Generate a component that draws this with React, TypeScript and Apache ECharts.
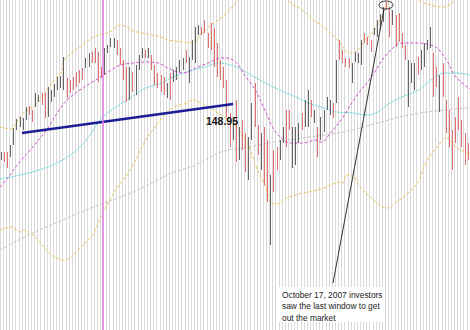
import React, { useEffect, useRef } from "react";
import * as echarts from "echarts";

// Daily bars (price units)
const highs = [
  146.40,146.40,146.40,146.75,147.60,148.05,148.15,148.10,148.65,148.70,
  148.50,149.35,149.25,149.35,149.35,149.65,149.50,149.80,150.15,150.20,
  151.15,150.10,150.00,150.15,150.40,150.50,150.60,151.10,151.35,151.40,
  151.60,151.40,150.65,151.60,151.75,152.10,152.10,152.00,151.60,151.00,
  150.65,150.65,150.40,150.75,151.25,151.60,151.50,151.60,151.25,150.75,
  150.35,150.25,150.15,149.85,150.35,150.50,150.65,151.00,151.10,151.50,
  151.15,152.00,152.65,152.75,152.65,153.00,152.35,152.85,152.60,151.85,
  151.00,150.65,150.00,148.35,148.00,149.00,147.65,148.00,147.35,147.15,
  148.85,149.85,147.75,147.35,147.65,147.00,145.25,146.50,146.65,147.00,
  147.65,148.50,148.50,147.65,147.65,147.85,148.35,149.00,149.50,149.00,
  148.50,147.65,148.15,148.50,149.15,149.00,148.85,151.00,152.00,151.50,
  151.10,151.10,150.85,151.40,151.35,152.00,152.35,152.15,152.00,152.60,
  153.00,153.30,153.65,153.90,153.65,153.50,153.25,153.35,152.35,151.75,
  151.00,150.85,150.85,151.15,151.50,151.85,152.00,152.65,151.35,150.65,
  150.25,150.85,149.00,148.50,147.50,148.15,149.15,148.00,147.35,146.85,
];
const lows = [
  146.00,145.90,145.60,146.15,146.75,147.50,147.65,147.50,148.00,148.25,
  147.90,148.65,148.90,148.75,148.10,148.15,148.90,149.15,149.50,149.60,
  149.50,149.10,149.35,149.50,149.65,149.85,150.00,150.60,150.65,150.85,
  150.85,149.90,150.10,150.25,151.35,151.65,151.60,151.25,150.75,150.00,
  148.90,149.00,149.40,149.25,150.50,151.10,151.10,151.10,150.50,149.75,
  149.60,149.40,149.25,149.10,149.00,149.90,150.00,150.40,150.50,150.85,
  149.85,151.00,150.85,152.25,152.25,152.35,151.60,151.50,150.65,150.15,
  150.00,149.60,148.15,146.65,147.00,145.90,146.00,146.50,145.40,145.00,
  147.00,147.65,146.25,145.50,144.75,143.90,141.75,144.40,145.50,146.00,
  146.85,146.65,147.50,145.60,145.75,146.85,147.50,147.65,147.65,148.15,
  147.85,146.15,147.00,147.40,148.50,148.25,148.10,148.85,151.00,150.85,
  150.65,150.60,149.85,150.90,150.85,150.75,151.85,151.75,151.40,152.25,
  152.15,152.50,152.90,153.50,152.15,152.75,151.65,151.90,151.60,151.00,
  148.65,149.85,149.50,150.25,150.50,150.65,151.50,151.60,149.15,149.65,
  148.40,149.15,147.35,146.65,145.50,146.85,147.50,146.65,145.75,146.00,
];
// U = up day (dark bar), D = down day (red bar)
const directions = [
  "UDDUUUUUUD", "DUUDDUUUUU", "UDDDDDDUUD", "DDDUUUUDDD", "DUDUUUDUDD",
  "DDDUDUUUUD", "UUUUDDDDDD", "DDDDUDUDDU", "UDDUDDUDDU", "UDDUUUDUUD",
  "UDUUUUDUDD", "DDUUUUDDDU", "UUUDDUDDDD", "UUUDUUUUDD", "UDDDDDDDDD",
].join("").split("");

// Indicator curves: [bar index, price]
const upperBand = [
  [-0.5,147.65],[3,147.55],[5,147.95],[7,148.35],[10,148.65],[13,149.15],[16,149.85],[19,150.4],
  [20,151.0],[25,151.65],[30,152.2],[34,152.35],[38,152.75],[40,152.65],[42,152.45],[45,152.35],
  [48,152.25],[51,152.15],[53,152.0],[58,151.9],[60,151.85],[62,151.95],[63,152.15],[66,152.65],
  [70,153.1],[75,153.9],[79,154.75],[84,155.25],[89,154.6],[92,153.9],[96,153.5],[100,152.95],
  [102,152.75],[105,152.35],[108,151.85],[111,151.35],[113,151.4],[116,152.0],[119,152.5],
  [121,153.1],[123,153.75],[126,154.4],[129,154.4],[132,154.1],[134,153.9],[138,153.7],
  [141,153.65],[144,153.9],[147,154.5],[149.5,154.9],
];
const lowerBand = [
  [-0.5,142.5],[3,142.65],[6,142.4],[7,142.5],[10,142.25],[13,141.75],[16,141.25],[20,141.0],
  [22,141.1],[25,141.6],[29,142.25],[32,143.25],[36,144.4],[40,145.25],[42,145.75],[46,147.0],
  [49,147.65],[52,148.25],[55,148.65],[59,148.85],[61,149.0],[63,148.9],[66,148.65],[70,148.25],
  [75,147.65],[79,146.65],[81,145.75],[84,144.75],[86,143.9],[88,143.8],[91,144.1],[96,144.35],
  [98,144.4],[102,144.55],[105,144.75],[108,144.9],[109,144.85],[110,145.25],[112,145.25],
  [114,144.75],[118,144.1],[123,143.6],[126,143.9],[129,144.25],[133,144.9],[135,145.75],
  [139,146.65],[142,147.1],[145,146.65],[149.5,146.3],
];
const shortAverage = [
  [-0.5,144.65],[2,145.1],[5,145.75],[10,146.65],[15,147.65],[19,148.65],[22,149.15],[26,149.6],
  [31,150.1],[35,150.5],[38,150.75],[42,150.85],[46,150.9],[50,150.85],[53,150.6],[58,150.35],
  [62,150.6],[66,150.85],[70,151.1],[72,151.1],[75,150.85],[78,150.15],[81,149.5],[84,148.5],
  [87,147.5],[90,147.0],[92,146.85],[96,146.85],[98,146.9],[100,147.0],[102,146.9],[105,147.35],
  [109,148.15],[113,149.15],[118,150.15],[122,151.1],[126,151.75],[128,151.85],[133,151.85],
  [137,151.75],[139,151.6],[142,151.0],[145,150.15],[149.5,149.55],
];
const midAverage = [
  [-0.5,145.05],[6,145.25],[12,145.5],[17,145.8],[22,146.25],[27,147.0],[32,148.1],[38,148.8],
  [42,149.2],[46,149.6],[51,149.85],[54,150.1],[59,150.4],[65,150.65],[69,150.85],[74,150.7],
  [78,150.4],[83,149.95],[88,149.55],[94,149.15],[98,148.85],[103,148.6],[107,148.4],[112,148.35],
  [117,148.25],[120,148.4],[123,148.75],[127,149.1],[133,149.5],[137,150.0],[141,150.35],
  [145,150.35],[149.5,150.25],
];
const longAverage = [
  [-0.5,141.5],[10,142.35],[21,143.1],[31,143.75],[42,144.4],[51,145.1],[55,145.4],[62,145.75],
  [70,146.4],[79,146.65],[87,146.9],[96,147.1],[109,147.4],[120,147.85],[130,148.25],
  [141,148.5],[149.5,148.6],
];
const trendLine = [[6.5,147.35],[73.9,148.8]];
const trendLabel = "148.95";
const markerDay = 32.4;
const noteLines = ["October 17, 2007 investors", "saw the last window to get", "out the market"];

export default function App() {
  const ref = useRef<HTMLDivElement>(null);
  useEffect(() => {
    document.body.style.margin = "0";
    const chart = echarts.init(ref.current!, null, { renderer: "svg" });
    const candles = highs.map((h, i) =>
      directions[i] === "U" ? [lows[i], h, lows[i], h] : [h, lows[i], lows[i], h]
    );
    const categories = highs.map((_, i) => String(i));
    const lineSeries = (data: number[][], color: string, dash: number[], width = 1) => ({
      type: "line",
      xAxisIndex: 1,
      data,
      showSymbol: false,
      smooth: 0.35,
      silent: true,
      z: 2,
      lineStyle: { color, width, type: dash },
    });
    const font = '"Liberation Sans", Arial, sans-serif';
    chart.setOption({
      animation: false,
      backgroundColor: "#ffffff",
      grid: { left: 0, right: 0, top: 0, bottom: 0 },
      xAxis: [
        {
          type: "category",
          data: categories,
          boundaryGap: true,
          axisLine: { show: false },
          axisTick: { show: false },
          axisLabel: { show: false },
          splitLine: { show: true, interval: 0, lineStyle: { color: "#d9d9d9", width: 1 } },
        },
        { type: "value", min: -0.5, max: 149.5, show: false },
      ],
      yAxis: { type: "value", min: 137.5, max: 154, show: false },
      series: [
        lineSeries(longAverage, "#c4c4c4", [3, 2]),
        lineSeries(upperBand, "#e9c35a", [3, 2]),
        lineSeries(lowerBand, "#e9c35a", [3, 2]),
        lineSeries(midAverage, "#5fd3d8", [2, 1]),
        lineSeries(shortAverage, "#cf52cf", [3, 2]),
        {
          type: "candlestick",
          xAxisIndex: 0,
          data: candles,
          barWidth: 1,
          z: 3,
          itemStyle: {
            color: "#3d3d3d",
            color0: "#e04a4a",
            borderColor: "#3d3d3d",
            borderColor0: "#e04a4a",
            borderWidth: 0.8,
          },
        },
        {
          type: "line",
          xAxisIndex: 1,
          data: trendLine,
          showSymbol: false,
          silent: true,
          z: 4,
          lineStyle: { color: "#1c1c96", width: 2.5 },
          markLine: {
            symbol: ["none", "none"],
            silent: true,
            label: { show: false },
            lineStyle: { color: "#e27be2", width: 1.5, type: "solid" },
            data: [{ xAxis: markerDay }],
          },
        },
      ],
      graphic: [
        {
          type: "text",
          x: 222,
          y: 121,
          z: 100,
          style: {
            text: trendLabel,
            fill: "#111",
            font: `bold 10.5px ${font}`,
            align: "center",
            verticalAlign: "middle",
          },
        },
        {
          type: "ellipse",
          z: 100,
          shape: { cx: 386, cy: 5, rx: 7, ry: 4 },
          style: { fill: "transparent", stroke: "#333", lineWidth: 1 },
        },
        {
          type: "line",
          z: 100,
          shape: { x1: 384, y1: 9, x2: 333, y2: 283 },
          style: { stroke: "#333", lineWidth: 1 },
        },
        {
          type: "rect",
          z: 99,
          shape: { x: 278, y: 287, width: 106, height: 35 },
          style: { fill: "#ffffff" },
        },
        ...noteLines.map((t, k) => ({
          type: "text",
          x: 282,
          y: 294.5 + k * 11.5,
          z: 100,
          style: {
            text: t,
            fill: "#222",
            font: `8.4px ${font}`,
            align: "left",
            verticalAlign: "middle",
          },
        })),
      ],
    });
    return () => chart.dispose();
  }, []);
  return (
    <div
      ref={ref}
      style={{ position: "fixed", left: 0, top: 0, width: 470, height: 330, background: "#fff" }}
    />
  );
}
